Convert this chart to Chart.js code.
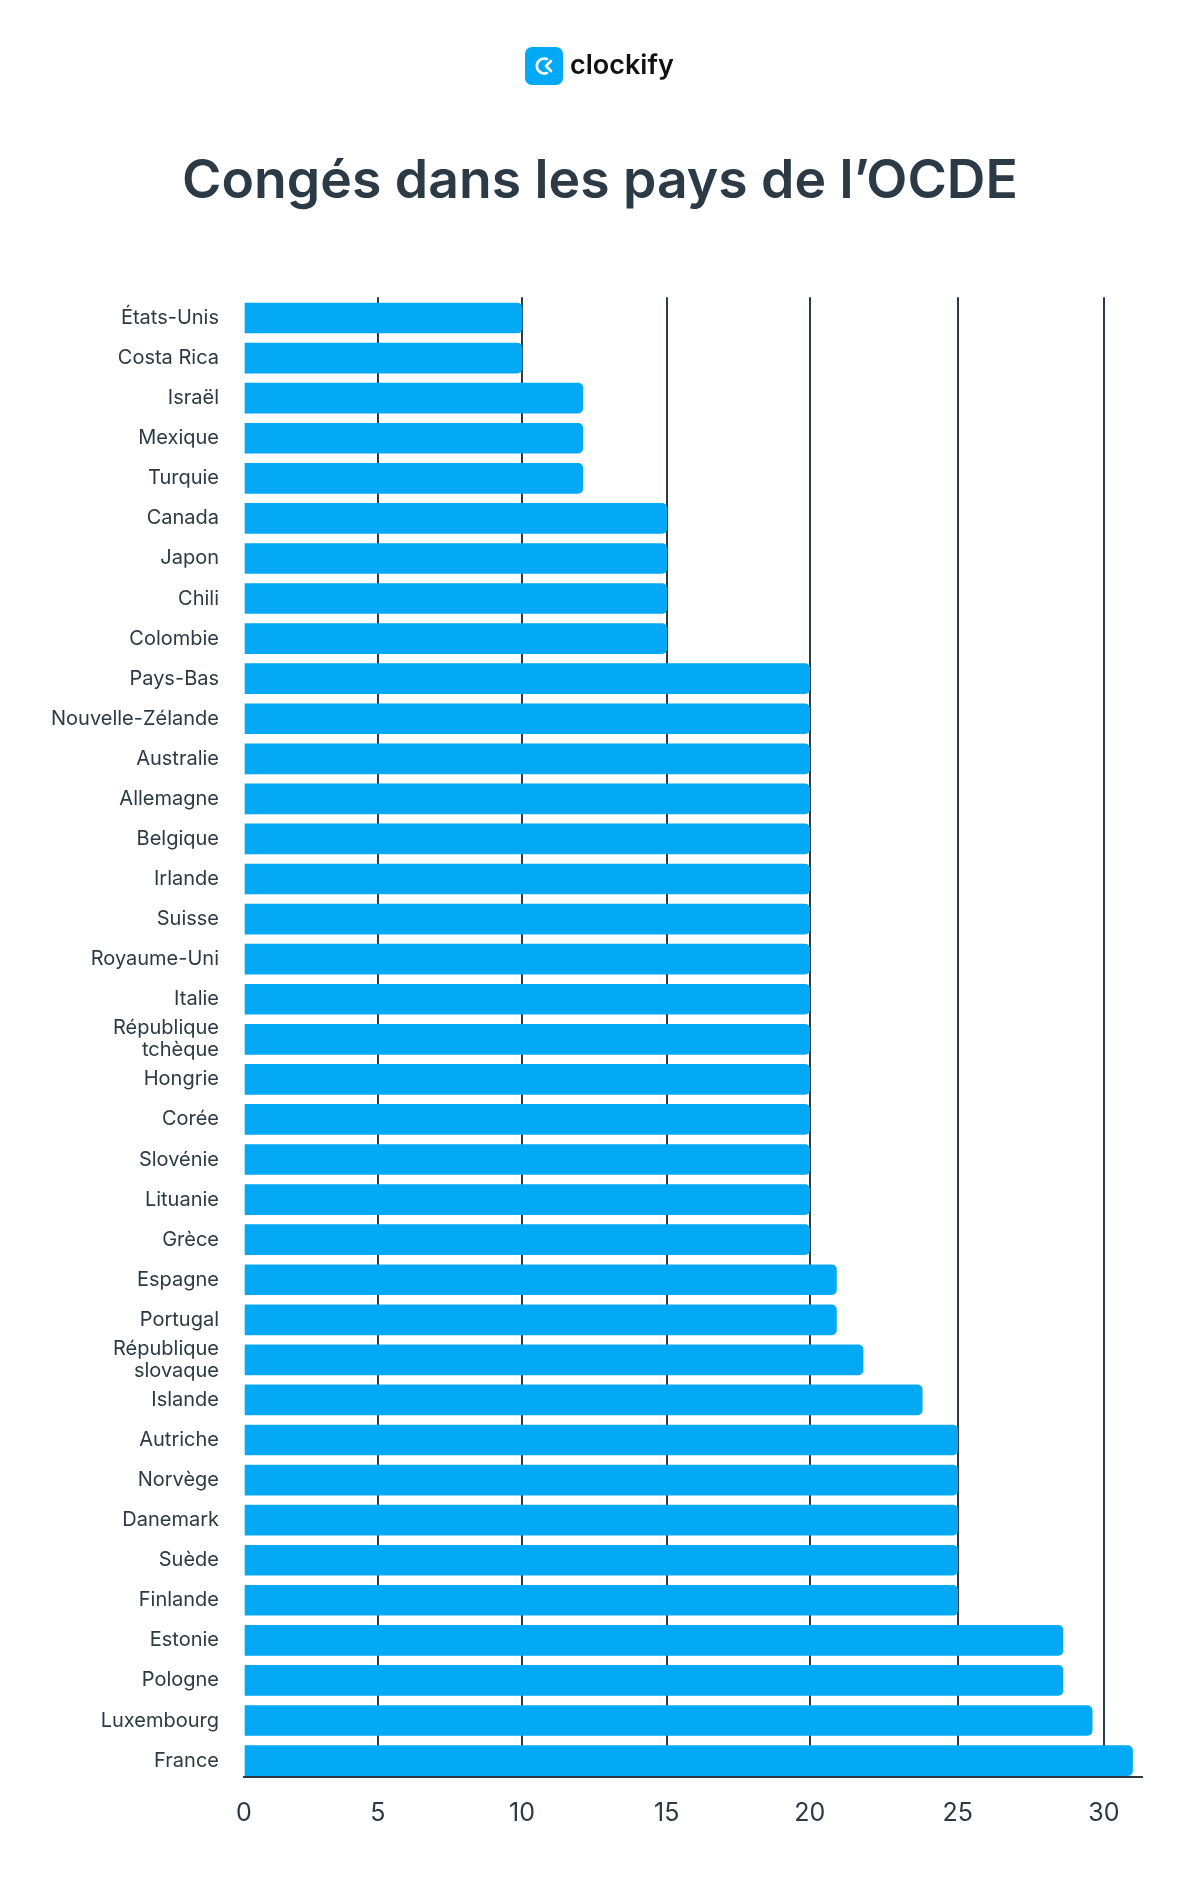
<!DOCTYPE html>
<html lang="fr">
<head>
<meta charset="utf-8">
<title>Congés dans les pays de l’OCDE</title>
<script src="https://cdn.jsdelivr.net/npm/chart.js@4"></script>
<style>
  html, body { margin: 0; background: #fff; }
  #wrap { position: relative; width: 1200px; height: 1902px; }
  #logo { position: absolute; left: 525px; top: 47px; display: flex; align-items: center; height: 38px; }
  #logo span { font: 600 27px Inter, sans-serif; color: #111; margin-left: 7px; position: relative; top: -2px; }
</style>
</head>
<body>
<div id="wrap">
  <div id="logo">
    <svg width="38" height="38" viewBox="0 0 38 38">
      <rect width="38" height="38" rx="7" fill="#03a9f4"/>
      <path d="M22 12a7.5 7.5 0 1 0 0 14" fill="none" stroke="#fff" stroke-width="2.6" stroke-linecap="round"/>
      <path d="M26 14l-5 5 5 5" fill="none" stroke="#fff" stroke-width="2.6" stroke-linecap="round" stroke-linejoin="round"/>
    </svg>
    <span>clockify</span>
  </div>
  <canvas id="chart" width="1200" height="1902"></canvas>
</div>
<script>
const countries = ['États-Unis', 'Costa Rica', 'Israël', 'Mexique', 'Turquie', 'Canada', 'Japon', 'Chili', 'Colombie',
    'Pays-Bas', 'Nouvelle-Zélande', 'Australie', 'Allemagne', 'Belgique', 'Irlande', 'Suisse', 'Royaume-Uni', 'Italie',
    ['République', 'tchèque'], 'Hongrie', 'Corée', 'Slovénie', 'Lituanie', 'Grèce', 'Espagne', 'Portugal',
    ['République', 'slovaque'], 'Islande', 'Autriche', 'Norvège', 'Danemark', 'Suède', 'Finlande', 'Estonie', 'Pologne',
    'Luxembourg', 'France'];
const days = [10, 10, 12.1, 12.1, 12.1, 15, 15, 15, 15,
    20, 20, 20, 20, 20, 20, 20, 20, 20,
    20, 20, 20, 20, 20, 20, 20.9, 20.9,
    21.8, 23.8, 25, 25, 25, 25, 25, 28.6, 28.6,
    29.6, 31];

const tickValues = [0, 5, 10, 15, 20, 25, 30];
// the grid in the picture is not evenly spaced, this is where each tick really sits on an even axis
const tickPlaces = [0, 4.67, 9.7, 14.75, 19.74, 24.9, 30];

const ink = '#2b3a44';
const blue = '#03a9f4';

class UnevenScale extends Chart.LinearScale {
    getPixelForValue(value) {
        let place = value;
        for (let i = 1; i < tickValues.length; i++) {
            if (value <= tickValues[i]) {
                const t = (value - tickValues[i - 1]) / (tickValues[i] - tickValues[i - 1]);
                place = tickPlaces[i - 1] + t * (tickPlaces[i] - tickPlaces[i - 1]);
                break;
            }
        }
        return super.getPixelForValue(place);
    }
}
UnevenScale.id = 'uneven';
UnevenScale.defaults = Chart.LinearScale.defaults;

// rows sit lower than centred, the last bar rests on the axis
class RestingCategory extends Chart.CategoryScale {
    buildTicks() {
        const ticks = super.buildTicks();
        this._startValue = -0.52;
        this._valueRange = 36.93;
        return ticks;
    }
}
RestingCategory.id = 'resting';
RestingCategory.defaults = Chart.CategoryScale.defaults;

Chart.register(UnevenScale, RestingCategory);

new Chart(document.getElementById('chart'), {
    type: 'bar',
    data: {
        labels: countries,
        datasets: [{
            data: days,
            backgroundColor: blue,
            barThickness: 30,
            borderRadius: { topRight: 5, bottomRight: 5, topLeft: 0, bottomLeft: 0 },
            borderSkipped: false
        }]
    },
    options: {
        indexAxis: 'y',
        responsive: false,
        animation: false,
        scales: {
            x: {
                type: 'uneven',
                min: 0,
                max: 31.33,
                afterFit: axis => { axis.height = 125; },
                afterBuildTicks: axis => { axis.ticks = tickValues.map(v => ({ value: v })); },
                grid: {
                    color: ctx => (ctx.tick && ctx.tick.value === 0 ? 'rgba(0,0,0,0)' : ink),
                    lineWidth: 2,
                    drawTicks: false
                },
                border: { display: true, color: ink, width: 2 },
                ticks: {
                    color: ink,
                    padding: 21,
                    maxRotation: 0,
                    font: { family: 'Inter', size: 25 }
                }
            },
            y: {
                type: 'resting',
                afterFit: axis => { axis.width = 244; },
                grid: { display: false, drawTicks: false },
                border: { display: false },
                ticks: {
                    color: ink,
                    padding: 25,
                    autoSkip: false,
                    font: { family: 'Inter', size: 20, lineHeight: 1.1 }
                }
            },
            // empty axis, only holds the gap on the right so the title stays centred on the page
            rightGap: {
                axis: 'y',
                type: 'linear',
                position: 'right',
                afterFit: axis => { axis.width = 58; },
                grid: { display: false, drawTicks: false },
                border: { display: false },
                ticks: { display: false }
            }
        },
        plugins: {
            legend: { display: false },
            tooltip: { enabled: false },
            title: {
                display: true,
                text: 'Congés dans les pays de l’OCDE',
                color: ink,
                font: { family: 'Inter', size: 53.5, weight: '600', lineHeight: 1.2 },
                padding: { top: 150, bottom: 83 }
            }
        }
    }
});
</script>
</body>
</html>
